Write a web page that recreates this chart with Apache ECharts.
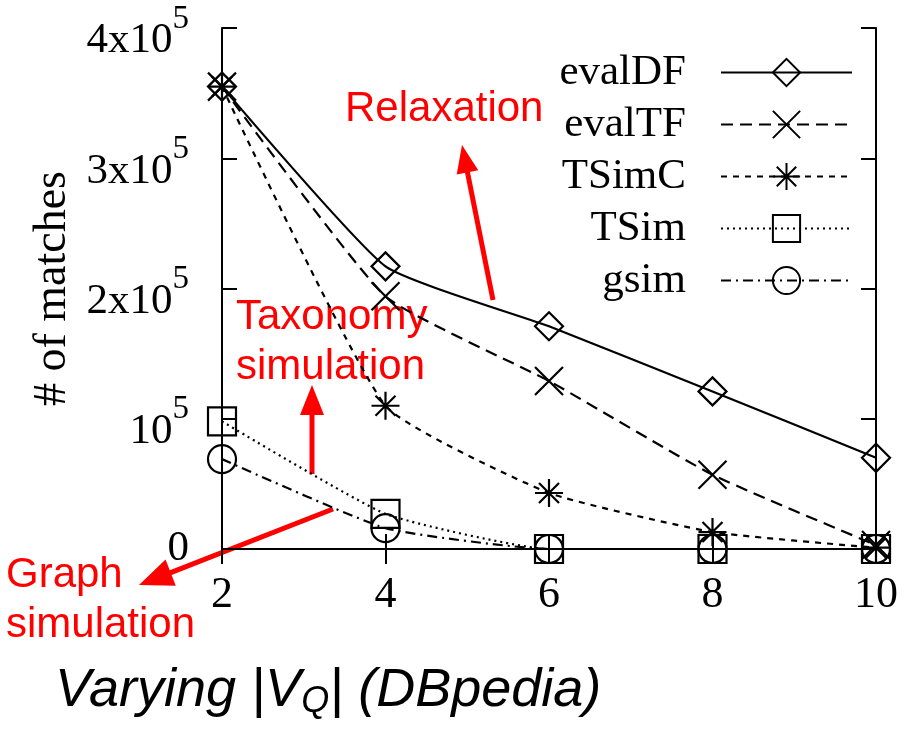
<!DOCTYPE html>
<html><head><meta charset="utf-8">
<script src="https://cdn.jsdelivr.net/npm/echarts@6/dist/echarts.min.js"></script>
<style>html,body{margin:0;padding:0;background:#fff}#c{width:914px;height:729px}</style>
</head><body><div id="c"></div>
<script>
// ---- data ----
const xValues = [2, 4, 6, 8, 10];
const evalDF = [355000, 217000, 171000, 121000, 70000];
const evalTF = [355000, 194000, 129000, 57000, 3000];
const TSimC  = [355000, 110000, 43000, 13000, 1000];
const TSim   = [98000, 27000, 0, 0, 0];
const gsim   = [69000, 16000, 0, 0, 0];
const seriesNames = ['evalDF', 'evalTF', 'TSimC', 'TSim', 'gsim'];
const xTickLabels = ['2', '4', '6', '8', '10'];
const yTickLabels = ['0', '10^5', '2x10^5', '3x10^5', '4x10^5'];
const yAxisName = '# of matches';
const annRelax = 'Relaxation';
const annTaxo = 'Taxonomy\nsimulation';
const annGraph = 'Graph\nsimulation';

// ---- styles ----
const serif = 'Liberation Serif';
const symbols = [
  'path://M14,0L28,14L14,28L0,14Z',
  'path://M0,0L28,28M28,0L0,28',
  'path://M14,0L14,28M0,14L28,14M4,4L24,24M24,4L4,24',
  'path://M0,0L28,0L28,28L0,28Z',
  'path://M28,14A14,14,0,1,1,0,14A14,14,0,1,1,28,14Z'
];
const dashes = ['solid', [12, 7], [6, 6], [2, 4], [10, 5, 2, 5]];
const allValues = [evalDF, evalTF, TSimC, TSim, gsim];

const series = seriesNames.map((name, k) => ({
  name: name,
  type: 'line',
  data: xValues.map((x, i) => [x, allValues[k][i]]),
  smooth: 0.15,
  symbol: symbols[k],
  symbolSize: 28,
  showSymbol: true,
  clip: false,
  lineStyle: { color: '#000', width: 2.2, type: dashes[k] },
  itemStyle: { color: 'rgba(0,0,0,0)', borderColor: '#000', borderWidth: 2.2 },
  emphasis: { disabled: true },
  z: 3
}));

function arrow(x1, y1, x2, y2, hl, hw) {
  const dx = x2 - x1, dy = y2 - y1, L = Math.sqrt(dx * dx + dy * dy);
  const ux = dx / L, uy = dy / L, px = -uy, py = ux;
  const bx = x2 - ux * hl, by = y2 - uy * hl;
  return [
    { type: 'line', shape: { x1: x1, y1: y1, x2: bx + ux * 2, y2: by + uy * 2 }, style: { stroke: '#ff0000', lineWidth: 5 } },
    { type: 'polygon', shape: { points: [[x2, y2], [bx + px * hw, by + py * hw], [bx - px * hw, by - py * hw]] }, style: { fill: '#ff0000' } }
  ];
}

const redFont = '42px "Liberation Sans"';
const graphics = [].concat(
  arrow(493, 300, 462, 145, 28, 11),
  arrow(312, 474, 312, 385, 30, 12),
  arrow(333, 509, 139, 585, 34, 14),
  [
    { type: 'text', left: 345, top: 88, style: { text: annRelax, fill: '#ff0000', font: redFont } },
    { type: 'text', left: 236, top: 292, style: { text: annTaxo, fill: '#ff0000', font: redFont, lineHeight: 50 } },
    { type: 'text', left: 6, top: 550, style: { text: annGraph, fill: '#ff0000', font: redFont, lineHeight: 50 } },
    { type: 'text', left: 55, top: 664, style: {
        text: 'Varying |V{sub|Q}| (DBpedia)', fill: '#000',
        font: 'italic 54px "Liberation Sans"',
        rich: { sub: { font: 'italic 36px "Liberation Sans"', fill: '#000', padding: [22, 0, 0, 0] } }
      } }
  ]
);

function yFmt(v) {
  const s = yTickLabels[Math.round(v / 100000)];
  if (s.indexOf('^') < 0) return '{z|' + s + '}';
  const parts = s.split('^');
  return '{b|' + parts[0] + '}{sup|' + parts[1] + '}';
}

const axisLineStyle = { color: '#000', width: 2 };
const tickStyle = { show: true, inside: true, length: 15, lineStyle: { color: '#000', width: 2 } };

const option = {
  animation: false,
  backgroundColor: '#fff',
  grid: { left: 222, right: 38, top: 28, bottom: 180, containLabel: false, outerBoundsMode: 'none' },
  legend: {
    orient: 'vertical',
    right: 56,
    top: 46,
    align: 'right',
    itemWidth: 131,
    itemHeight: 34,
    itemGap: 9,
    selectedMode: false,
    data: seriesNames,
    textStyle: { fontFamily: serif, fontSize: 43, color: '#000', lineHeight: 42, padding: [0, 30, 0, 0] }
  },
  xAxis: [
    { type: 'value', min: 2, max: 10, interval: 2,
      axisLine: { show: true, lineStyle: axisLineStyle }, axisTick: tickStyle, splitLine: { show: false },
      axisLabel: { formatter: v => xTickLabels[Math.round((v - 2) / 2)], color: '#000', fontFamily: serif, fontSize: 44, margin: 24 } },
    { type: 'value', position: 'top', min: 2, max: 10, interval: 2,
      axisLine: { show: true, lineStyle: axisLineStyle }, axisTick: tickStyle, splitLine: { show: false },
      axisLabel: { show: false } }
  ],
  yAxis: [
    { type: 'value', min: 0, max: 400000, interval: 100000,
      axisLine: { show: true, lineStyle: axisLineStyle }, axisTick: tickStyle, splitLine: { show: false },
      name: yAxisName, nameLocation: 'middle', nameGap: 140,
      nameTextStyle: { fontFamily: serif, fontSize: 46, color: '#000' },
      axisLabel: { formatter: yFmt, color: '#000', fontFamily: serif, fontSize: 43, margin: 33,
        padding: [26, 0, 0, 0],
        rich: {
          z: { fontFamily: serif, fontSize: 43, color: '#000', lineHeight: 43, padding: [0, 0, 26, 0] },
          b: { fontFamily: serif, fontSize: 43, color: '#000', lineHeight: 77 },
          sup: { fontFamily: serif, fontSize: 33, color: '#000', lineHeight: 33, verticalAlign: 'top' }
        } } },
    { type: 'value', position: 'right', min: 0, max: 400000, interval: 100000,
      axisLine: { show: true, lineStyle: axisLineStyle }, axisTick: tickStyle, splitLine: { show: false },
      axisLabel: { show: false } }
  ],
  series: series,
  graphic: graphics
};

const chart = echarts.init(document.getElementById('c'), null, { renderer: 'canvas' });
chart.setOption(option);
</script></body></html>
